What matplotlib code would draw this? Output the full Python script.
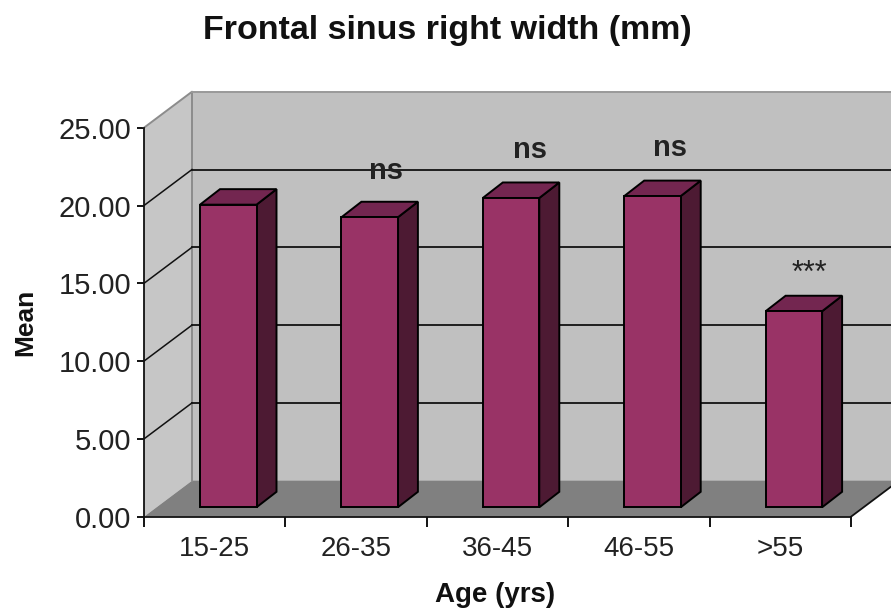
import matplotlib
matplotlib.use('Agg')
from matplotlib import pyplot as plt
from matplotlib.patches import Polygon

categories = ['15-25', '26-35', '36-45', '46-55', '>55']
means = [19.45, 18.64, 19.88, 20.0, 12.6]
y_ticks = [0, 5, 10, 15, 20, 25]
sig_labels = ['', 'ns', 'ns', 'ns', '***']

plt.rcParams['font.family'] = ['Liberation Sans', 'DejaVu Sans']

# axes = front plane of the fake 3d box, everything else is offset from it
left, right, top, bottom = 144.0, 851.0, 127.7, 516.7
W, H = 891.0, 611.0
cat_px = (right - left) / len(categories)
val_px = (bottom - top) / 25.0

depth_x = 48.0 / cat_px
depth_y = 36.0 / val_px
bar_dx = 56.0 / cat_px
bar_dy = 9.4 / val_px
bar_w = 56.5 / cat_px
bar_depth_x = 20.0 / cat_px
bar_depth_y = 15.5 / val_px

fig = plt.figure(figsize=(8.91, 6.11), dpi=100)
ax = fig.add_axes([left / W, 1 - bottom / H, (right - left) / W, (bottom - top) / H])
ax.set_xlim(0, 5)
ax.set_ylim(0, 25)
ax.patch.set_visible(False)


def poly(points, face, edge='none', lw=0, z=1):
    ax.add_patch(Polygon(points, closed=True, facecolor=face, edgecolor=edge,
                         linewidth=lw, zorder=z, clip_on=False, joinstyle='miter'))


# back wall, side wall, floor
wall = '#c0c0c0'
poly([(depth_x, depth_y), (5 + depth_x, depth_y), (5 + depth_x, 25 + depth_y), (depth_x, 25 + depth_y)], wall, z=1)
poly([(0, 0), (depth_x, depth_y), (depth_x, 25 + depth_y), (0, 25)], '#c6c6c6', z=1)
poly([(0, 0), (5, 0), (5 + depth_x, depth_y), (depth_x, depth_y)], '#808080', z=1)
ax.plot([0, depth_x, depth_x], [25, 25 + depth_y, depth_y], color='#8c8c8c', lw=1.4, zorder=2, clip_on=False)
ax.plot([depth_x, 5 + depth_x], [25 + depth_y] * 2, color='#999999', lw=1.4, zorder=2, clip_on=False)

# grid lines, back then side
for v in y_ticks[1:-1]:
    ax.plot([depth_x, 5 + depth_x], [v + depth_y] * 2, color='#111111', lw=1.3, zorder=2, clip_on=False)
    ax.plot([0, depth_x], [v, v + depth_y], color='#111111', lw=1.1, zorder=2, clip_on=False)
ax.plot([5, 5 + depth_x], [0, depth_y], color='#111111', lw=1.3, zorder=2, clip_on=False)

for i, val in enumerate(means):
    x0 = i + bar_dx
    x1 = x0 + bar_w
    y0 = bar_dy
    y1 = val + bar_dy
    dx = bar_depth_x
    dy = bar_depth_y
    poly([(x1, y0), (x1 + dx, y0 + dy), (x1 + dx, y1 + dy), (x1, y1)], '#4d1a33', 'black', 1.4, 5)
    poly([(x0, y1), (x1, y1), (x1 + dx, y1 + dy), (x0 + dx, y1 + dy)], '#732650', 'black', 1.4, 5)
    poly([(x0, y0), (x1, y0), (x1, y1), (x0, y1)], '#993366', 'black', 1.4, 6)

# significance labels were put by hand in the original
sig_px = [None, (386, 171), (530, 150), (670, 148), (809, 274)]
for lab, pos in zip(sig_labels, sig_px):
    if pos is None:
        continue
    size = 21 if lab == 'ns' else 22
    fig.text(pos[0] / W, 1 - pos[1] / H, lab, fontsize=size, ha='center', va='center',
             color='#222222', fontweight='bold' if lab == 'ns' else 'normal', zorder=10)

for s in ['top', 'right']:
    ax.spines[s].set_visible(False)
for s in ['left', 'bottom']:
    ax.spines[s].set_linewidth(1.3)
    ax.spines[s].set_color('#111111')
    ax.spines[s].set_zorder(8)

ax.set_yticks(y_ticks)
ax.set_yticklabels(['%.2f' % v for v in y_ticks], fontsize=21, color='#222222')
ax.set_xticks(range(6))
ax.set_xticklabels([])
ax.set_xticks([i + 0.5 for i in range(5)], minor=True)
ax.set_xticklabels(categories, minor=True, fontsize=20, color='#222222')
ax.tick_params(axis='y', which='major', length=5, width=1.3, pad=4)
ax.tick_params(axis='x', which='major', length=7, width=1.3)
ax.tick_params(axis='x', which='minor', length=0, pad=14)

fig.text(447 / W, 1 - 30 / H, 'Frontal sinus right width (mm)', fontsize=24.5, fontweight='bold',
         ha='center', va='center', color='#111111')
fig.text(25 / W, 1 - 322 / H, 'Mean', fontsize=19, fontweight='bold', rotation=90,
         ha='center', va='center', color='#111111')
fig.text(495 / W, 1 - 595 / H, 'Age (yrs)', fontsize=20, fontweight='bold',
         ha='center', va='center', color='#111111')

fig.savefig('out.png', dpi=100)
